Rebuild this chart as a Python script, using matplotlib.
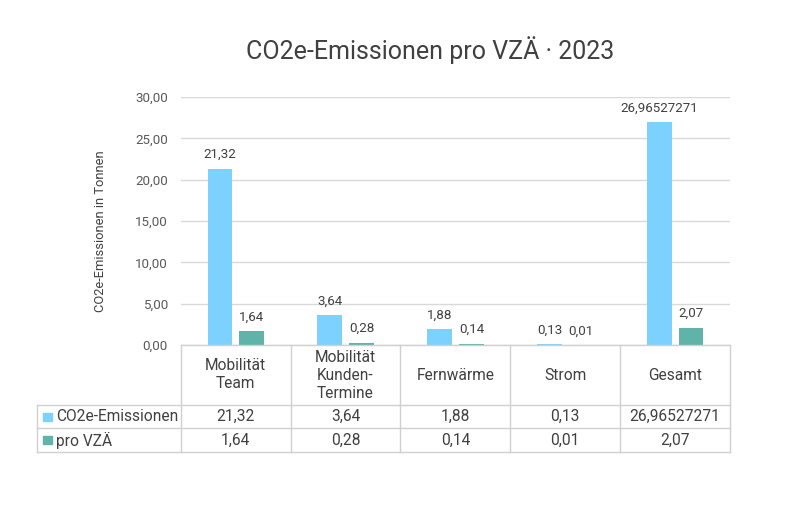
import matplotlib
matplotlib.use("Agg")
import matplotlib.pyplot as plt
from matplotlib.patches import Rectangle

plt.rcParams['font.family'] = ['Roboto', 'DejaVu Sans']

categories = ["Mobilität\nTeam", "Mobilität\nKunden-\nTermine", "Fernwärme", "Strom", "Gesamt"]
series_names = ["CO2e-Emissionen", "pro VZÄ"]
co2 = [21.32, 3.64, 1.88, 0.13, 26.96527271]
pro_vza = [1.64, 0.28, 0.14, 0.01, 2.07]
yticks = [0, 5, 10, 15, 20, 25, 30]
title = "CO2e-Emissionen pro VZÄ · 2023"
ylabel = "CO2e-Emissionen in Tonnen"

c_blue = "#7DD1FE"
c_teal = "#5FB3A9"
txt = "#404040"
grid_c = "#D9D9D9"

def fmt(v):
    return str(v).replace('.', ',')

fig = plt.figure(figsize=(8, 5.24), dpi=100)
W, H = 800, 524

ax = fig.add_axes([181 / W, 1 - 345 / H, 549 / W, 248 / H])
n = len(categories)
bw = 0.227
off = 0.145
xs = [i + 0.5 for i in range(n)]
b1 = ax.bar([x - off for x in xs], co2, width=bw, color=c_blue, zorder=3)
b2 = ax.bar([x + off for x in xs], pro_vza, width=bw, color=c_teal, zorder=3)
for bars, vals in ((b1, co2), (b2, pro_vza)):
    for r, v in zip(bars, vals):
        ax.annotate(fmt(v), (r.get_x() + r.get_width() / 2, r.get_height()),
                    xytext=(0, 5.5), textcoords="offset points", ha="center",
                    va="bottom", fontsize=9.6, color=txt)
ax.set_xlim(0, n)
ax.set_ylim(0, 30)
ax.set_yticks(yticks)
ax.set_yticklabels([f"{t:.2f}".replace('.', ',') for t in yticks], fontsize=9.6, color="#595959")
ax.tick_params(axis='y', length=0, pad=9.5)
ax.set_xticks([])
ax.yaxis.grid(True, color=grid_c, linewidth=1, zorder=0)
for s in ax.spines.values():
    s.set_visible(False)

fig.text(100 / W, 1 - 231 / H, ylabel, rotation=90, ha="center", va="center",
         fontsize=9.3, color=txt)
fig.text(430 / W, 1 - 50 / H, title, ha="center", va="center", fontsize=18, color=txt)

# table
tax = fig.add_axes([37 / W, 1 - 452 / H, 693 / W, 107 / H])
lw_units = 144 / 110
tax.set_xlim(-lw_units, n)
tax.set_ylim(107, 0)
tax.axis('off')
lc = "#D0D0D0"
rows_y = [0, 60, 83, 107]
tax.plot([0, n], [0, 0], color=lc, lw=1, clip_on=False)
for y in rows_y[1:]:
    tax.plot([-lw_units, n], [y, y], color=lc, lw=1, clip_on=False)
for i in range(n + 1):
    tax.plot([i, i], [0, 107], color=lc, lw=1, clip_on=False)
tax.plot([-lw_units, -lw_units], [60, 107], color=lc, lw=1, clip_on=False)
for i, c in enumerate(categories):
    tax.text(i + 0.5, 30, c, ha="center", va="center", fontsize=11.2, color=txt, linespacing=1.25)
for r, (name, vals, col) in enumerate(((series_names[0], co2, c_blue), (series_names[1], pro_vza, c_teal))):
    yc = (rows_y[r + 1] + rows_y[r + 2]) / 2
    tax.add_patch(Rectangle((-lw_units + 6 / 110, yc - 4), 9 / 110, 8, color=col, clip_on=False))
    tax.text(-lw_units + 19 / 110, yc, name, ha="left", va="center", fontsize=11.2, color=txt)
    for i, v in enumerate(vals):
        tax.text(i + 0.5, yc, fmt(v), ha="center", va="center", fontsize=11.2, color=txt)

fig.savefig("out.png", dpi=100)
